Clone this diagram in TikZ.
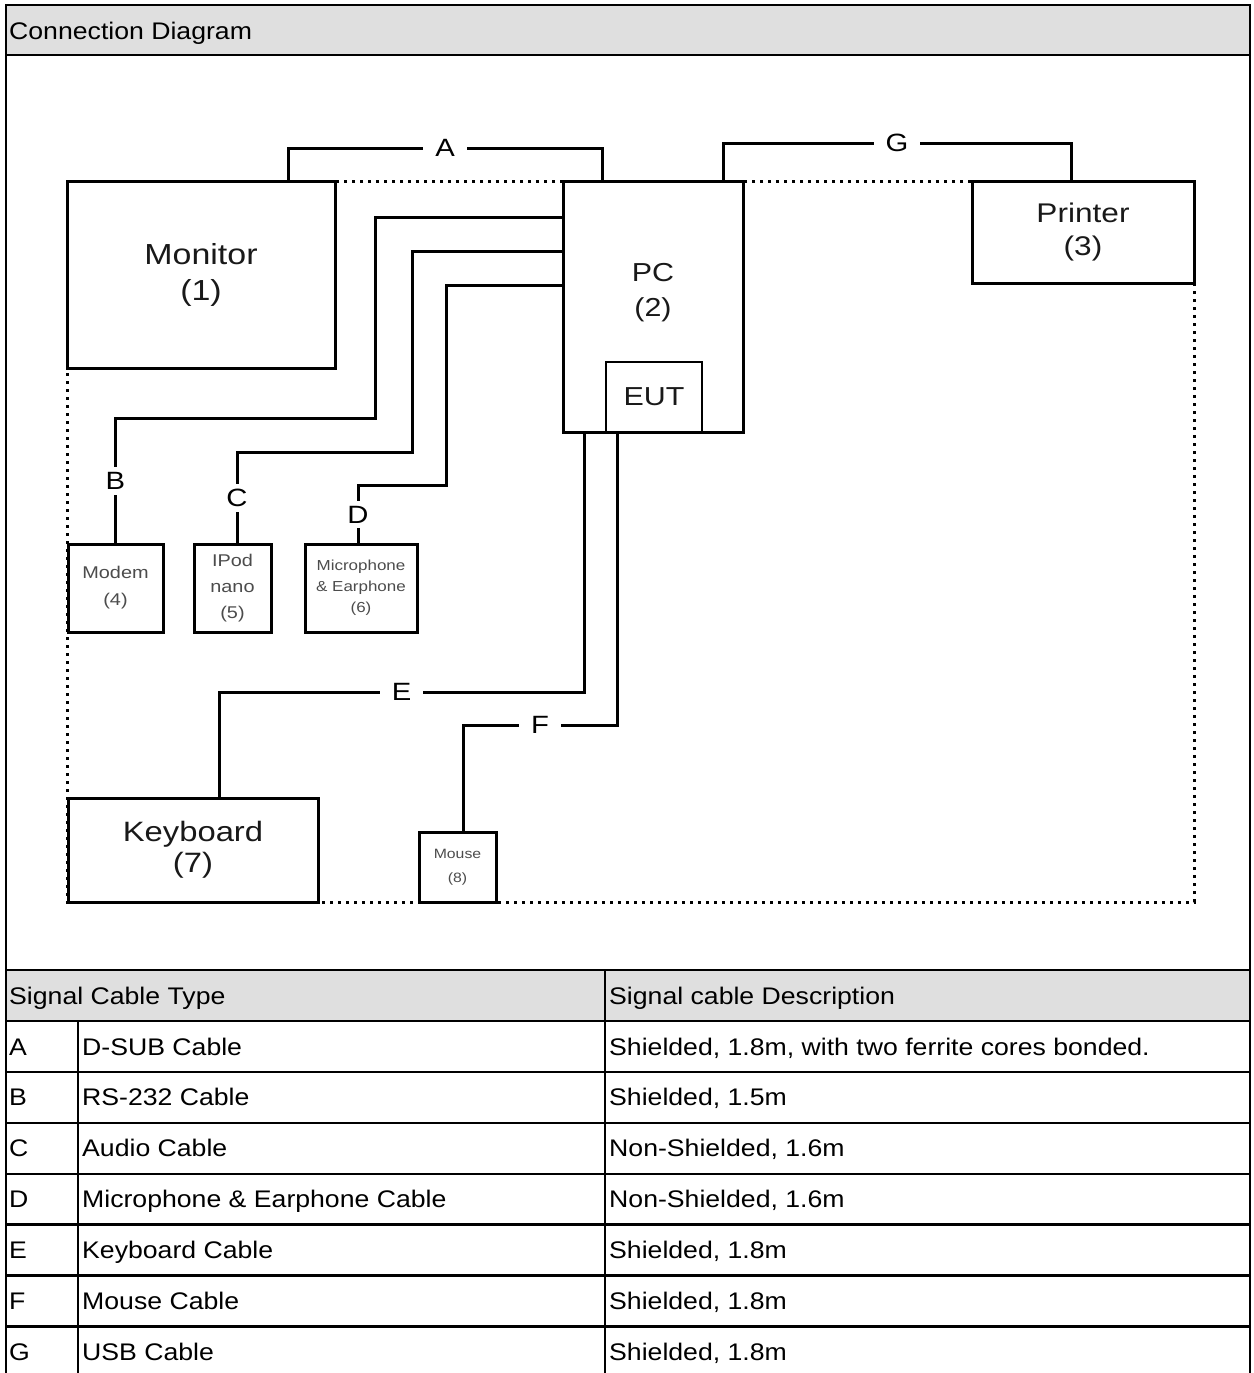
\documentclass[tikz,border=0pt]{standalone}
\usepackage{fontspec}
\setmainfont{Liberation Sans}[FakeStretch=1.11]
\newfontfamily\diagfont{Liberation Sans}[FakeStretch=1.17]
\usepackage{tikz}
\usetikzlibrary{positioning,backgrounds}
\usepackage{xcolor}
\definecolor{hdrgray}{HTML}{DFDFDF}

\begin{document}
\begin{tikzpicture}[x=1pt, y=-1pt,
    devbox/.style={draw, line width=3pt, fill=white, inner sep=0pt, outer sep=0pt, align=center, text=black!90},
    smallbox/.style={devbox, text=black!70},
    cable/.style={line width=3pt},
    cablelbl/.style={fill=white, inner xsep=12pt, inner ysep=5pt, font=\diagfont\fontsize{25}{30}\selectfont},
    boundary/.style={line width=3pt, dash pattern=on 3pt off 5pt},
    cellt/.style={anchor=base west, inner sep=0pt, font=\fontsize{24}{28}\selectfont},
    tabline/.style={line width=2.4pt}]

    \useasboundingbox (0,0) rectangle (1253,1373);

    % title strip
    \fill[hdrgray] (6,5) rectangle (1250,55);
    \node[cellt] (title) at (9,39.5) {Connection Diagram};

    % equipment
    \node[devbox, minimum width=268, minimum height=187, font=\diagfont\fontsize{29}{36}\selectfont] (monitor) at (201,274.5) {Monitor\\(1)};
    \node[devbox, minimum width=180, minimum height=251] (pc) at (653,306.5) {};
    \node[align=center, text=black!90, font=\diagfont\fontsize{26}{35}\selectfont] (pclbl) at (653,293) {PC\\(2)};
    \node[devbox, line width=2pt, minimum width=96, minimum height=70, font=\diagfont\fontsize{26}{30}\selectfont] (eut) at (654,397) {EUT};
    \node[devbox, minimum width=222, minimum height=102, font=\diagfont\fontsize{27}{33}\selectfont] (printer) at (1083,232) {Printer\\(3)};

    \node[smallbox, minimum width=95, minimum height=88, font=\diagfont\fontsize{17}{27}\selectfont] (modem) at (115.5,588) {Modem\\(4)};
    \node[smallbox, minimum width=77, minimum height=88, font=\diagfont\fontsize{17}{26}\selectfont] (ipod) at (232.5,588) {IPod\\nano\\(5)};
    \node[smallbox, minimum width=112, minimum height=88, font=\diagfont\fontsize{14.5}{21}\selectfont] (mic) at (361,588) {Microphone\\\& Earphone\\(6)};

    \node[devbox, minimum width=250, minimum height=104, font=\diagfont\fontsize{28}{31}\selectfont] (kbd) at (193,850) {Keyboard\\(7)};
    \node[smallbox, minimum width=77, minimum height=70, font=\diagfont\fontsize{13.5}{24}\selectfont] (mouse) at (457.5,867) {Mouse\\(8)};

    % test table outline
    \begin{scope}[on background layer]
        \draw[boundary] (monitor.north west) rectangle (printer.east |- kbd.south);
    \end{scope}

    % cables
    \draw[cable] ([xshift=221pt]monitor.north west) -- ++(0,-33) -| node[cablelbl, pos=.25] {A} ([xshift=39pt]pc.north west);
    \draw[cable] ([xshift=160pt]pc.north west) -- ++(0,-38) -| node[cablelbl, pos=.25] {G} ([xshift=99pt]printer.north west);
    \draw[cable] ([yshift=-36pt]pc.north west) -- ++(-188,0) -- ++(0,201) -| node[cablelbl, pos=.75] {B} (modem.north);
    \draw[cable] ([yshift=-70pt]pc.north west) -- ++(-151,0) -- ++(0,201) -| node[cablelbl, pos=.75] {C} ([xshift=4.5pt]ipod.north);
    \draw[cable] ([yshift=-104pt]pc.north west) -- ++(-117,0) -- ++(0,200) -| node[cablelbl, pos=.75] {D} ([xshift=-3pt]mic.north);
    \draw[cable] ([xshift=21pt]pc.south west) -- ++(0,260) -| node[cablelbl, pos=.25] {E} ([xshift=151pt]kbd.north west);
    \draw[cable] ([xshift=11pt]eut.south west) -- ++(0,293) -| node[cablelbl, pos=.25] {F} ([xshift=5.5pt]mouse.north);

    % cable table
    \fill[hdrgray] (6,970) rectangle (1250,1021);
    \node[cellt] (typehdr) at (9,1004.5) {Signal Cable Type};
    \node[cellt] (deschdr) at (609,1004.5) {Signal cable Description};
    \foreach \cid/\cname/\cdesc [count=\i] in {A/D-SUB Cable/{Shielded, 1.8m, with two ferrite cores bonded.},
        B/RS-232 Cable/{Shielded, 1.5m}, C/Audio Cable/{Non-Shielded, 1.6m},
        D/Microphone \& Earphone Cable/{Non-Shielded, 1.6m}, E/Keyboard Cable/{Shielded, 1.8m},
        F/Mouse Cable/{Shielded, 1.8m}, G/USB Cable/{Shielded, 1.8m}} {
        \node[cellt] (id\cid) at (9,1004.1+50.9*\i) {\cid};
        \node[cellt] (name\cid) at (82,1004.1+50.9*\i) {\cname};
        \node[cellt] (desc\cid) at (609,1004.1+50.9*\i) {\cdesc};
    }

    % rules
    \draw[tabline] (6,1373) -- (6,5) -- (1250,5) -- (1250,1373);
    \draw[tabline] (6,55) -- (1250,55);
    \draw[tabline] (6,970) -- (1250,970);
    \foreach \i in {0,...,6}
        \draw[tabline] (6,1021+50.9*\i) -- (1250,1021+50.9*\i);
    \draw[tabline] (78,1021) -- (78,1373);
    \draw[tabline] (605,970) -- (605,1373);
\end{tikzpicture}
\end{document}
